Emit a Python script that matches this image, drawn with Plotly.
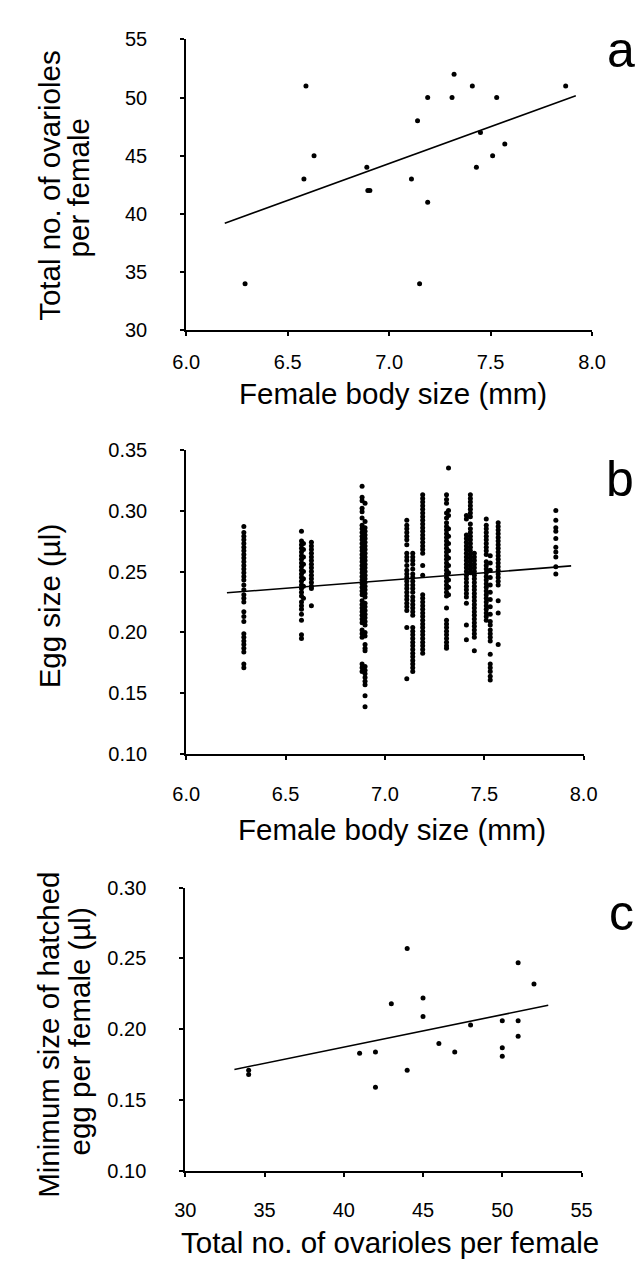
import plotly.graph_objects as go

W, H = 643, 1263

# ---------------- Panel a: body size vs ovarioles ----------------
body_a = [6.29, 6.59, 6.63, 6.58, 6.89, 6.895, 6.905, 7.11, 7.14, 7.19, 7.19,
          7.15, 7.31, 7.32, 7.41, 7.53, 7.45, 7.43, 7.51, 7.57, 7.87]
ovar_a = [34, 51, 45, 43, 44, 42, 42, 43, 48, 50, 41,
          34, 50, 52, 51, 50, 47, 44, 45, 46, 51]
fit_a_x = [6.19, 7.92]
fit_a_y = [39.2, 50.15]

# ---------------- Panel b: body size vs egg size (per female) ----------------
egg_629 = [0.287, 0.282, 0.279, 0.276, 0.273, 0.270, 0.267, 0.264, 0.261, 0.258,
           0.255, 0.252, 0.249, 0.246, 0.243, 0.239, 0.235, 0.231, 0.228, 0.225,
           0.217, 0.213, 0.209, 0.199, 0.196, 0.193, 0.190, 0.187, 0.184, 0.174, 0.171]
egg_658 = [0.283, 0.275, 0.272, 0.269, 0.266, 0.263, 0.260, 0.257, 0.254, 0.251,
           0.248, 0.245, 0.242, 0.239, 0.236, 0.233, 0.230, 0.225, 0.222, 0.219,
           0.215, 0.210, 0.198, 0.195]
egg_659 = [0.273, 0.268, 0.262, 0.256, 0.250, 0.244, 0.238, 0.228]
egg_663 = [0.274, 0.271, 0.268, 0.265, 0.262, 0.259, 0.256, 0.253, 0.250, 0.247,
           0.244, 0.241, 0.238, 0.236, 0.222]
egg_6885 = [0.320, 0.311, 0.308, 0.302, 0.299, 0.294, 0.288, 0.285, 0.282, 0.279,
            0.276, 0.273, 0.270, 0.267, 0.264, 0.261, 0.258, 0.255, 0.252, 0.249,
            0.246, 0.243, 0.240, 0.237, 0.234, 0.231, 0.226, 0.223, 0.220, 0.217,
            0.214, 0.211, 0.208, 0.202, 0.199, 0.196, 0.174, 0.171, 0.168]
egg_690 = [0.306, 0.291, 0.286, 0.283, 0.280, 0.277, 0.274, 0.271, 0.268, 0.265,
           0.262, 0.259, 0.256, 0.253, 0.250, 0.247, 0.244, 0.241, 0.238, 0.235,
           0.232, 0.229, 0.224, 0.221, 0.218, 0.215, 0.212, 0.209, 0.206, 0.200,
           0.197, 0.190, 0.187, 0.185, 0.172, 0.169, 0.166, 0.163, 0.160, 0.157,
           0.148, 0.139]
egg_711 = [0.292, 0.288, 0.285, 0.282, 0.279, 0.276, 0.272, 0.265, 0.262, 0.259,
           0.255, 0.251, 0.248, 0.245, 0.242, 0.239, 0.236, 0.233, 0.230, 0.227,
           0.224, 0.221, 0.218, 0.204, 0.162]
egg_714 = [0.265, 0.262, 0.259, 0.256, 0.252, 0.248, 0.245, 0.242, 0.239, 0.236,
           0.233, 0.229, 0.226, 0.223, 0.220, 0.217, 0.214, 0.204, 0.201, 0.198,
           0.195, 0.192, 0.189, 0.186, 0.183, 0.180, 0.177, 0.174, 0.171, 0.168]
egg_719 = [0.313, 0.310, 0.307, 0.304, 0.301, 0.298, 0.295, 0.292, 0.289, 0.286,
           0.283, 0.280, 0.277, 0.274, 0.271, 0.268, 0.265, 0.255, 0.247, 0.231,
           0.228, 0.225, 0.222, 0.219, 0.216, 0.213, 0.210, 0.207, 0.204, 0.201,
           0.198, 0.195, 0.192, 0.189, 0.186, 0.183]
egg_731 = [0.313, 0.309, 0.306, 0.298, 0.294, 0.290, 0.287, 0.284, 0.281, 0.278,
           0.275, 0.272, 0.269, 0.266, 0.263, 0.260, 0.257, 0.254, 0.251, 0.248,
           0.245, 0.242, 0.239, 0.236, 0.233, 0.230, 0.220, 0.210, 0.207, 0.204,
           0.201, 0.198, 0.195, 0.192, 0.189, 0.187]
egg_732 = [0.335, 0.300, 0.296, 0.285, 0.279, 0.273, 0.267, 0.261, 0.255, 0.249,
           0.243, 0.237, 0.231]
egg_741 = [0.296, 0.293, 0.280, 0.277, 0.274, 0.271, 0.268, 0.265, 0.262, 0.259,
           0.256, 0.253, 0.250, 0.247, 0.244, 0.241, 0.238, 0.235, 0.232, 0.229,
           0.224, 0.206, 0.194]
egg_743 = [0.313, 0.310, 0.307, 0.304, 0.301, 0.298, 0.295, 0.289, 0.285, 0.282,
           0.279, 0.276, 0.273, 0.270, 0.267, 0.264, 0.261, 0.258, 0.255, 0.252, 0.249]
egg_745 = [0.265, 0.262, 0.259, 0.256, 0.253, 0.250, 0.247, 0.244, 0.241, 0.238,
           0.235, 0.232, 0.229, 0.226, 0.223, 0.220, 0.217, 0.214, 0.211, 0.208,
           0.205, 0.202, 0.199, 0.196, 0.185]
egg_751 = [0.293, 0.288, 0.285, 0.282, 0.279, 0.276, 0.273, 0.270, 0.267, 0.264,
           0.258, 0.255, 0.252, 0.249, 0.246, 0.243, 0.240, 0.237, 0.234, 0.231,
           0.228, 0.225, 0.222, 0.219, 0.216, 0.213, 0.210]
egg_753 = [0.263, 0.257, 0.251, 0.245, 0.239, 0.233, 0.227, 0.221, 0.215, 0.209,
           0.206, 0.202, 0.199, 0.196, 0.193, 0.182, 0.174, 0.171, 0.168, 0.164, 0.161]
egg_757 = [0.290, 0.287, 0.284, 0.281, 0.278, 0.275, 0.272, 0.269, 0.266, 0.263,
           0.260, 0.257, 0.254, 0.251, 0.248, 0.245, 0.242, 0.239, 0.226, 0.216, 0.190]
egg_786 = [0.300, 0.292, 0.286, 0.283, 0.277, 0.270, 0.266, 0.262, 0.254, 0.248]

females_b = [6.29, 6.58, 6.59, 6.63, 6.885, 6.90, 7.11, 7.14, 7.19, 7.31, 7.32,
             7.41, 7.43, 7.45, 7.51, 7.53, 7.57, 7.86]
eggs_b = [egg_629, egg_658, egg_659, egg_663, egg_6885, egg_690, egg_711, egg_714,
          egg_719, egg_731, egg_732, egg_741, egg_743, egg_745, egg_751, egg_753,
          egg_757, egg_786]
fit_b_x = [6.205, 7.937]
fit_b_y = [0.2325, 0.2546]

# ---------------- Panel c: ovarioles vs minimum hatched egg size ----------------
ovar_c = [34, 34, 41, 42, 42, 43, 44, 44, 45, 45, 46, 47, 48, 50, 50, 50, 51, 51, 51, 52]
minegg_c = [0.171, 0.168, 0.183, 0.184, 0.159, 0.218, 0.257, 0.171, 0.222, 0.209,
            0.190, 0.184, 0.203, 0.206, 0.187, 0.181, 0.247, 0.206, 0.195, 0.232]
fit_c_x = [33.1, 52.9]
fit_c_y = [0.1716, 0.2169]

bx, by = [], []
for xv, ys in zip(females_b, eggs_b):
    for yv in ys:
        bx.append(xv)
        by.append(yv)

FONT = "Liberation Sans, Arial, Helvetica, sans-serif"
mk = dict(color="black", size=5)
ln = dict(color="black", width=1.6)

fig = go.Figure()
fig.add_trace(go.Scatter(x=body_a, y=ovar_a, mode="markers", marker=mk, xaxis="x", yaxis="y"))
fig.add_trace(go.Scatter(x=fit_a_x, y=fit_a_y, mode="lines", line=ln, xaxis="x", yaxis="y"))
fig.add_trace(go.Scatter(x=bx, y=by, mode="markers", marker=mk, xaxis="x2", yaxis="y2"))
fig.add_trace(go.Scatter(x=fit_b_x, y=fit_b_y, mode="lines", line=ln, xaxis="x2", yaxis="y2"))
fig.add_trace(go.Scatter(x=ovar_c, y=minegg_c, mode="markers", marker=mk, xaxis="x3", yaxis="y3"))
fig.add_trace(go.Scatter(x=fit_c_x, y=fit_c_y, mode="lines", line=ln, xaxis="x3", yaxis="y3"))


def px(x):
    return x / W


def py(y):
    return 1 - y / H


def axis_common(**kw):
    d = dict(showline=True, linecolor="black", linewidth=2, ticks="outside",
             ticklen=4, tickwidth=2, tickcolor="black", showgrid=False,
             zeroline=False, tickfont=dict(family=FONT, size=20, color="black"),
             fixedrange=True)
    d.update(kw)
    return d


fig.update_layout(
    width=W, height=H, margin=dict(l=0, r=0, t=0, b=0),
    paper_bgcolor="white", plot_bgcolor="white", showlegend=False,
    font=dict(family=FONT, color="black"),
    xaxis=axis_common(domain=[px(171.7), px(596)], range=[6, 8], dtick=0.5,
                      tickformat=".1f", anchor="y", ticklabelstandoff=9),
    yaxis=axis_common(domain=[py(316.7), py(20.7)], range=[30, 55], dtick=5,
                      anchor="x", ticklabelstandoff=29),
    xaxis2=axis_common(domain=[px(171.7), px(587.2)], range=[6, 8], dtick=0.5,
                       tickformat=".1f", anchor="y2", ticklabelstandoff=17),
    yaxis2=axis_common(domain=[py(748.3), py(438.3)], range=[0.10, 0.35], dtick=0.05,
                       tickformat=".2f", anchor="x2", ticklabelstandoff=29),
    xaxis3=axis_common(domain=[px(170.7), px(585)], range=[30, 55], dtick=5,
                       anchor="y3", ticklabelstandoff=16),
    yaxis3=axis_common(domain=[py(1172.3), py(884)], range=[0.10, 0.30], dtick=0.05,
                       tickformat=".2f", anchor="x3", ticklabelstandoff=29),
)

TF = dict(family=FONT, size=29.5, color="black")
LF = dict(family=FONT, size=50, color="black")
ann = [
    ("Female body size (mm)", 388, 381, 0, TF),
    ("Female body size (mm)", 387, 825, 0, TF),
    ("Total no. of ovarioles per female", 385, 1245, 0, TF),
    ("Total no. of ovarioles", 28, 169, -90, TF),
    ("per female", 59, 172, -90, TF),
    ("Egg size (µl)", 29, 597, -90, TF),
    ("Minimum size of hatched", 28, 1034, -90, TF),
    ("egg per female (µl)", 60, 1030, -90, TF),
    ("a", 626, 32, 0, LF),
    ("b", 625, 468, 0, LF),
    ("c", 627, 910, 0, LF),
]
for text, x, y, ang, f in ann:
    fig.add_annotation(text=text, x=px(x), y=py(y), xref="paper", yref="paper",
                       xanchor="center", yanchor="middle", showarrow=False,
                       textangle=ang, font=f)

fig.write_html("out.html")
